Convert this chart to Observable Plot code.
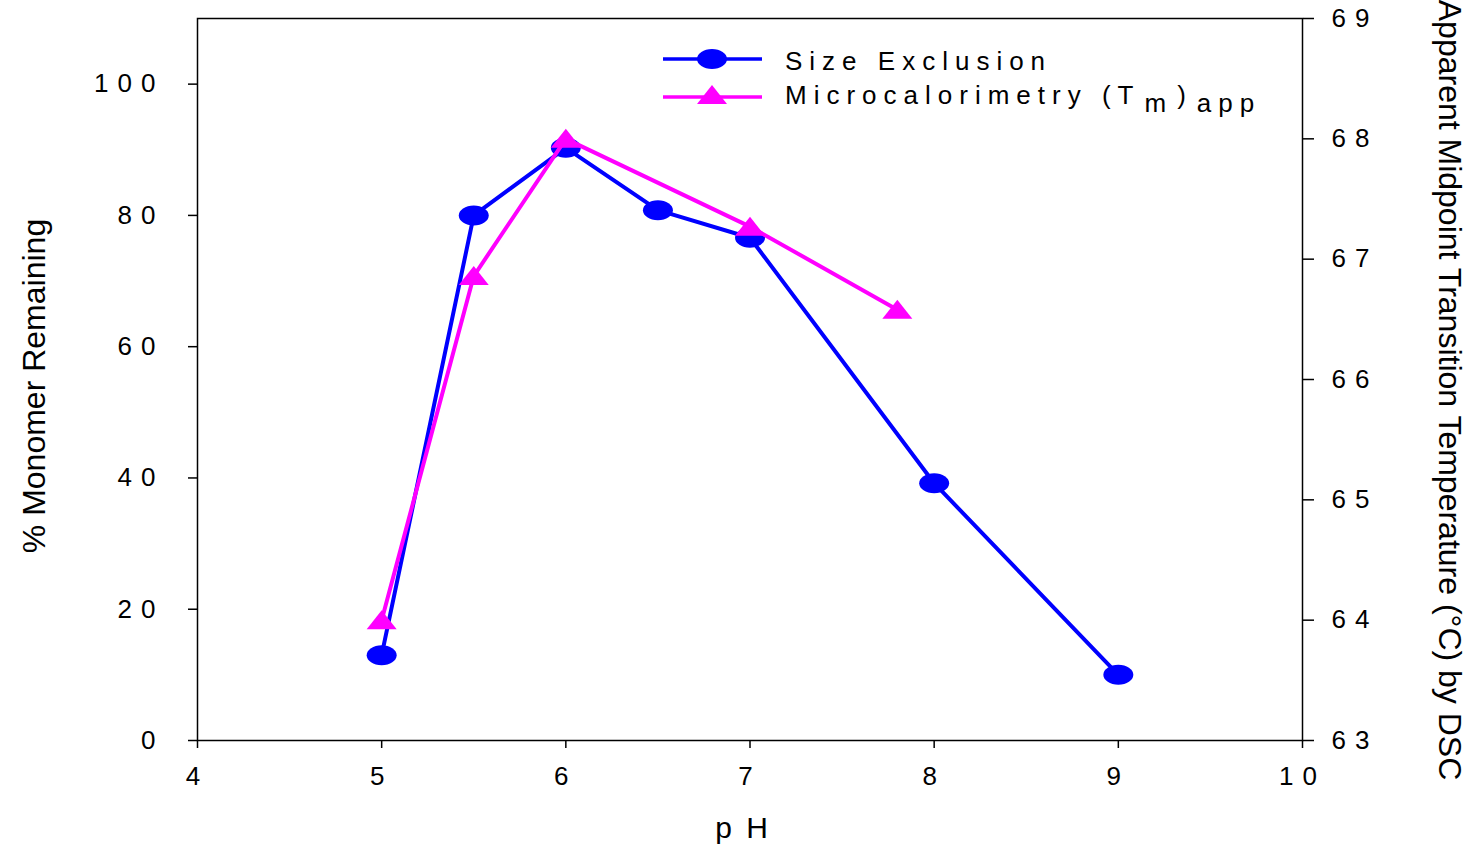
<!DOCTYPE html>
<html>
<head>
<meta charset="utf-8">
<script src="https://cdn.jsdelivr.net/npm/d3@7"></script>
<script src="https://cdn.jsdelivr.net/npm/@observablehq/plot@0.6"></script>
<style>
  html, body { margin: 0; padding: 0; background: white; }
  #chart svg { display: block; }
  .spaced text { letter-spacing: 9px; }
  .xspaced text { letter-spacing: 9px; }
</style>
</head>
<body>
<div id="chart"></div>
<script>
// ---- data ----
const phSE = [5, 5.5, 6, 6.5, 7, 8, 9];
const monomer = [13, 80, 90.3, 80.8, 76.6, 39.2, 10];
const phDSC = [5, 5.5, 6, 7, 7.8];
const tmApp = [64.0, 66.86, 68.0, 67.27, 66.58];
const xTicks = [4, 5, 6, 7, 8, 9, 10];
const leftTicks = [0, 20, 40, 60, 80, 100];
const rightTicks = [63, 64, 65, 66, 67, 68, 69];
const legendLabels = ["Size Exclusion", "Microcalorimetry (T", "m", ")", "app"];

const FONT = "'Liberation Sans', Arial, Helvetica, sans-serif";
const leftDomain = [0, 110];
const rightDomain = [63, 69];
const toY = t => (t - rightDomain[0]) * (leftDomain[1] - leftDomain[0]) / (rightDomain[1] - rightDomain[0]);
const fromY = y => rightDomain[0] + y * (rightDomain[1] - rightDomain[0]) / (leftDomain[1] - leftDomain[0]);

const se = phSE.map((x, i) => ({x, y: monomer[i]}));
const dsc = phDSC.map((x, i) => ({x, y: toY(tmApp[i])}));

const K = 0.5523;
const ellipse = {
  draw(ctx) {
    const rx = 15, ry = 10;
    ctx.moveTo(rx, 0);
    ctx.bezierCurveTo(rx, K * ry, K * rx, ry, 0, ry);
    ctx.bezierCurveTo(-K * rx, ry, -rx, K * ry, -rx, 0);
    ctx.bezierCurveTo(-rx, -K * ry, -K * rx, -ry, 0, -ry);
    ctx.bezierCurveTo(K * rx, -ry, rx, -K * ry, rx, 0);
    ctx.closePath();
  }
};
const triangle = {
  draw(ctx) {
    ctx.moveTo(0, -10);
    ctx.lineTo(15, 9);
    ctx.lineTo(-15, 9);
    ctx.closePath();
  }
};

const BLUE = "#0000ff", MAG = "#ff00ff";

const chart = Plot.plot({
  width: 1473,
  height: 848,
  marginLeft: 197,
  marginRight: 171,
  marginTop: 18,
  marginBottom: 108,
  x: {domain: [4, 10]},
  y: {domain: leftDomain},
  style: {fontFamily: FONT, fontSize: "26px", color: "black", background: "white", overflow: "visible"},
  marks: [
    Plot.frame({stroke: "black", strokeWidth: 1.5}),
    Plot.axisX({ticks: xTicks, tickSize: 8, tickPadding: 18, label: null, fontSize: 26, strokeWidth: 1.5, className: "xspaced",
      tickFormat: d => String(d)}),
    Plot.axisY({ticks: leftTicks, tickSize: 9, tickPadding: 24, label: null, fontSize: 26, strokeWidth: 1.5, className: "spaced"}),
    Plot.axisY(rightTicks.map(toY), {anchor: "right", tickSize: 11, tickPadding: 18, label: null, fontSize: 26, strokeWidth: 1.5, className: "spaced",
      tickFormat: d => String(Math.round(fromY(d)))}),
    Plot.line(se, {x: "x", y: "y", stroke: BLUE, strokeWidth: 4}),
    Plot.dot(se, {x: "x", y: "y", symbol: ellipse, fill: BLUE, stroke: "none", r: 10}),
    Plot.line(dsc, {x: "x", y: "y", stroke: MAG, strokeWidth: 4}),
    Plot.dot(dsc, {x: "x", y: "y", symbol: triangle, fill: MAG, stroke: "none", r: 10})
  ]
});

document.getElementById("chart").appendChild(chart);

// ---- axis titles and legend ----
const svg = d3.select(chart);
const g = svg.append("g").attr("font-family", FONT).attr("fill", "black");
g.append("text").attr("transform", "translate(45,386) rotate(-90)").attr("text-anchor", "middle")
  .attr("font-size", 32).text("% Monomer Remaining");
g.append("text").attr("transform", "translate(1439,390) rotate(90)").attr("text-anchor", "middle")
  .attr("font-size", 32).text("Apparent Midpoint Transition Temperature (°C) by DSC");
g.append("text").attr("x", 743).attr("y", 838).attr("text-anchor", "middle")
  .attr("font-size", 30).attr("letter-spacing", "3px").text("p H");

const lg = svg.append("g").attr("font-family", FONT).attr("font-size", 26).attr("letter-spacing", "7px").attr("text-anchor", "start");
lg.append("line").attr("x1", 663).attr("x2", 762).attr("y1", 59).attr("y2", 59).attr("stroke", BLUE).attr("stroke-width", 3.5);
lg.append("path").attr("d", d3.symbol(ellipse)()).attr("transform", "translate(712,59)").attr("fill", BLUE);
lg.append("text").attr("x", 785).attr("y", 70).text(legendLabels[0]);
lg.append("line").attr("x1", 663).attr("x2", 762).attr("y1", 97).attr("y2", 97).attr("stroke", MAG).attr("stroke-width", 3.5);
lg.append("path").attr("d", d3.symbol(triangle)()).attr("transform", "translate(712,95)").attr("fill", MAG);
const t2 = lg.append("text").attr("x", 785).attr("y", 104);
t2.append("tspan").text(legendLabels[1]);
t2.append("tspan").attr("dx", 4).attr("dy", 8).text(legendLabels[2]);
t2.append("tspan").attr("dx", 4).attr("dy", -8).text(legendLabels[3]);
t2.append("tspan").attr("dx", 4).attr("dy", 8).text(legendLabels[4]);
</script>
</body>
</html>
